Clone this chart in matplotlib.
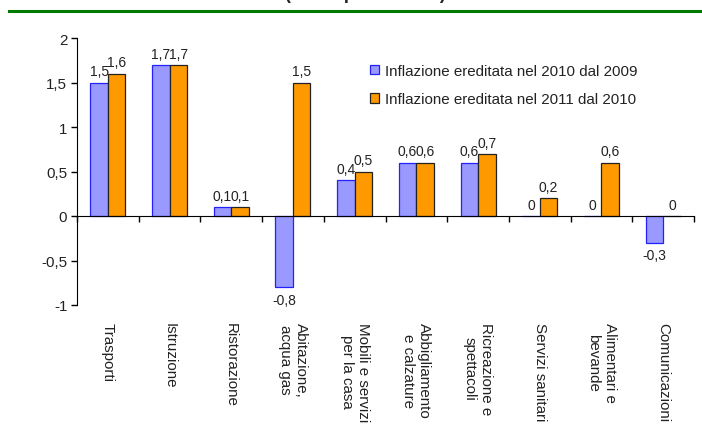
import matplotlib
matplotlib.use("Agg")
import matplotlib.pyplot as plt
from matplotlib import font_manager
from matplotlib.lines import Line2D
import numpy as np

categories = ["Trasporti", "Istruzione", "Ristorazione", "Abitazione,\nacqua gas",
              "Mobili e servizi\nper la casa", "Abbigliamento\ne calzature",
              "Ricreazione e\nspettacoli", "Servizi sanitari", "Alimentari e\nbevande",
              "Comunicazioni"]
infl_2010 = [1.5, 1.7, 0.1, -0.8, 0.4, 0.6, 0.6, 0.0, 0.0, -0.3]
infl_2011 = [1.6, 1.7, 0.1, 1.5, 0.5, 0.6, 0.7, 0.2, 0.6, 0.0]
series_names = ["Inflazione ereditata nel 2010 dal 2009",
                "Inflazione ereditata nel 2011 dal 2010"]
y_ticks = [-1, -0.5, 0, 0.5, 1, 1.5, 2]

names = {f.name for f in font_manager.fontManager.ttflist}
if "Liberation Sans Narrow" in names:
    plt.rcParams["font.family"] = ["Liberation Sans Narrow", "Liberation Sans"]
    FS, FS_VAL = 12.5, 12
else:
    plt.rcParams["font.family"] = ["Liberation Sans", "DejaVu Sans"]
    FS, FS_VAL = 10.9, 10
TXT = "#222222"


def fmt(v):
    if v == 0:
        return "0"
    return f"{v:g}".replace(".", ",")


fig = plt.figure(figsize=(7.02, 4.35), dpi=100)
ax = fig.add_axes([77 / 702, 1 - 306 / 435, (694 - 77) / 702, (306 - 39) / 435])

# title is cut off at the top in the original, only its lower edge shows
fig.text(365 / 702, 1 + 1 / 435, "(valori percentuali)", ha="center", va="baseline",
         fontsize=13, fontweight="bold", color=TXT)
fig.add_artist(Line2D([9 / 702, 1], [1 - 12 / 435] * 2, color="#007A00", lw=2.2))

x = np.arange(len(categories)) + 0.5
w = 0.284
b1 = ax.bar(x - w / 2, infl_2010, w, color="#9999FF", edgecolor="#2222FF", lw=0.9,
            label=series_names[0], zorder=2)
b2 = ax.bar(x + w / 2, infl_2011, w, color="#FF9900", edgecolor="#222222", lw=0.9,
            label=series_names[1], zorder=2)

for bars, vals in ((b1, infl_2010), (b2, infl_2011)):
    for r, v in zip(bars, vals):
        cx = r.get_x() + r.get_width() / 2
        if v < 0:
            ax.annotate(fmt(v), (cx, v), xytext=(0, -4), textcoords="offset points",
                        ha="center", va="top", fontsize=FS_VAL, color=TXT)
        else:
            ax.annotate(fmt(v), (cx, v), xytext=(0, 3), textcoords="offset points",
                        ha="center", va="bottom", fontsize=FS_VAL, color=TXT)

ax.set_xlim(0, len(categories))
ax.set_ylim(-1, 2)
ax.set_yticks(y_ticks)
ax.set_yticklabels([fmt(t) for t in y_ticks], fontsize=FS, color=TXT)
ax.set_xticks(np.arange(len(categories) + 1))
ax.set_xticklabels([])
ax.tick_params(axis="y", direction="out", length=4, width=1, pad=3)
ax.tick_params(axis="x", direction="out", length=4, width=1)
ax.spines["top"].set_visible(False)
ax.spines["right"].set_visible(False)
ax.spines["bottom"].set_position(("data", 0))
ax.spines["bottom"].set_zorder(3)

for xi, name in zip(x, categories):
    ax.annotate(name, (xi, 0), xycoords=("data", "axes fraction"), xytext=(0, -12),
                textcoords="offset points", rotation=-90, ha="center", va="top",
                multialignment="center", fontsize=FS, color=TXT, annotation_clip=False)

ax.legend(loc="center left", bbox_to_anchor=(370 / 702, 1 - 86 / 435),
          bbox_transform=fig.transFigure, frameon=False, fontsize=FS,
          handlelength=0.6, handleheight=0.6, handletextpad=0.4,
          labelspacing=0.95, borderpad=0, borderaxespad=0, labelcolor=TXT)

fig.savefig("out.png", dpi=100)
